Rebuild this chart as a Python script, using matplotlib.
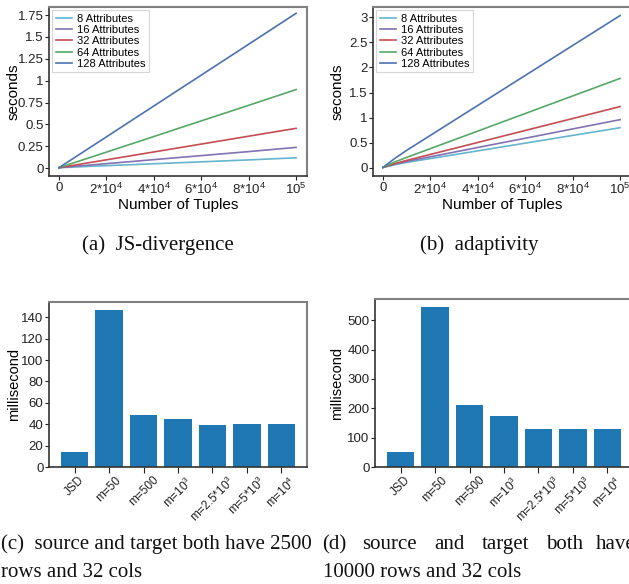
import matplotlib
matplotlib.use('Agg')
import matplotlib.pyplot as plt
import numpy as np

plt.rcParams['font.family'] = ['Liberation Sans', 'DejaVu Sans']
plt.rcParams['mathtext.fontset'] = 'custom'
plt.rcParams['mathtext.rm'] = 'Liberation Sans'
plt.rcParams['mathtext.it'] = 'Liberation Sans:italic'

W, H = 629, 584

# line charts (a) and (b)
tuples = [0, 5000, 10000, 20000, 30000, 40000, 50000, 60000, 70000, 80000, 90000, 100000]
attr_names = ['8 Attributes', '16 Attributes', '32 Attributes', '64 Attributes', '128 Attributes']
attr_colors = ['#64B5CD', '#8172B2', '#C44E52', '#55A868', '#4C72B0']

js_8 = [0.005, 0.011, 0.017, 0.028, 0.039, 0.050, 0.061, 0.072, 0.083, 0.094, 0.106, 0.118]
js_16 = [0.005, 0.017, 0.028, 0.051, 0.074, 0.097, 0.120, 0.143, 0.166, 0.189, 0.213, 0.237]
js_32 = [0.005, 0.027, 0.050, 0.095, 0.140, 0.185, 0.230, 0.275, 0.320, 0.365, 0.410, 0.455]
js_64 = [0.005, 0.050, 0.094, 0.183, 0.272, 0.361, 0.451, 0.540, 0.629, 0.718, 0.808, 0.898]
js_128 = [0.005, 0.093, 0.181, 0.357, 0.534, 0.710, 0.887, 1.063, 1.240, 1.416, 1.593, 1.770]
js_all = [js_8, js_16, js_32, js_64, js_128]

ad_8 = [0.01, 0.065, 0.11, 0.187, 0.263, 0.34, 0.417, 0.493, 0.57, 0.647, 0.723, 0.80]
ad_16 = [0.01, 0.075, 0.13, 0.222, 0.314, 0.407, 0.499, 0.591, 0.683, 0.776, 0.868, 0.96]
ad_32 = [0.01, 0.085, 0.15, 0.269, 0.388, 0.507, 0.626, 0.745, 0.864, 0.982, 1.101, 1.22]
ad_64 = [0.01, 0.12, 0.21, 0.384, 0.559, 0.733, 0.908, 1.082, 1.257, 1.431, 1.606, 1.78]
ad_128 = [0.01, 0.19, 0.35, 0.648, 0.946, 1.243, 1.541, 1.839, 2.137, 2.435, 2.732, 3.03]
ad_all = [ad_8, ad_16, ad_32, ad_64, ad_128]

x_ticks = [0, 20000, 40000, 60000, 80000, 100000]
x_tick_labels = ['0', '2*10$^4$', '4*10$^4$', '6*10$^4$', '8*10$^4$', '10$^5$']
js_yticks = [0, 0.25, 0.5, 0.75, 1, 1.25, 1.5, 1.75]
ad_yticks = [0, 0.5, 1, 1.5, 2, 2.5, 3]

# bar charts (c) and (d)
methods = ['JSD', 'm=50', 'm=500', 'm=10$^3$', 'm=2.5*10$^3$', 'm=5*10$^3$', 'm=10$^4$']
ms_2500 = [14, 147, 49, 45, 39.5, 40.5, 40.5]
ms_10000 = [50, 545, 210, 173, 128, 128, 128]
c_yticks = [0, 20, 40, 60, 80, 100, 120, 140]
d_yticks = [0, 100, 200, 300, 400, 500]


def px_axes(fig, left, top, right, bottom):
	return fig.add_axes([left / W, 1 - bottom / H, (right - left) / W, (bottom - top) / H])


def style(ax):
	for side in ['top', 'right']:
		ax.spines[side].set_color('#808080')
		ax.spines[side].set_linewidth(1.5)
	for side in ['left', 'bottom']:
		ax.spines[side].set_color('#333333')
		ax.spines[side].set_linewidth(1.2)
	ax.tick_params(length=3, width=0.8, pad=1, colors='#222222', labelsize=9.5)


def line_panel(ax, series, yticks, ylim):
	for ys, name, c in zip(series, attr_names, attr_colors):
		ax.plot(tuples, ys, color=c, lw=1.2, label=name)
	ax.set_xlim(-4200, 104600)
	ax.set_ylim(*ylim)
	ax.set_xticks(x_ticks)
	ax.set_xticklabels(x_tick_labels)
	ax.set_yticks(yticks)
	ax.set_yticklabels(['%g' % v for v in yticks])
	ax.set_xlabel('Number of Tuples', fontsize=11, labelpad=1)
	ax.set_ylabel('seconds', fontsize=11, labelpad=1)
	style(ax)
	leg = ax.legend(loc='upper left', fontsize=8, frameon=True, handlelength=1.5,
		borderpad=0.3, labelspacing=0.12, handletextpad=0.4, borderaxespad=0.3, fancybox=False)
	leg.get_frame().set_edgecolor('#cccccc')
	leg.get_frame().set_linewidth(0.8)


def bar_panel(ax, values, yticks):
	idx = np.arange(len(methods))
	ax.bar(idx, values, 0.8, color='#1f77b4')
	ax.set_xticks(idx)
	ax.set_xticklabels(methods, rotation=45)
	ax.set_yticks(yticks)
	ax.set_ylabel('millisecond', fontsize=10.5, labelpad=1)
	style(ax)
	ax.tick_params(axis='x', labelsize=8.5, length=4)


fig = plt.figure(figsize=(W / 100, H / 100), dpi=100)

ax_a = px_axes(fig, 49, 7, 307, 176)
line_panel(ax_a, js_all, js_yticks, (-0.09, 1.842))
ax_a.yaxis.set_label_coords(-28 / 258, 0.5)

ax_b = px_axes(fig, 373, 7, 631, 176)
line_panel(ax_b, ad_all, ad_yticks, (-0.16, 3.2))
ax_b.yaxis.set_label_coords(-28 / 258, 0.5)

ax_c = px_axes(fig, 49, 302, 307, 467)
bar_panel(ax_c, ms_2500, c_yticks)
ax_c.yaxis.set_label_coords(-28 / 258, 0.5)

ax_d = px_axes(fig, 375, 299, 633, 467)
bar_panel(ax_d, ms_10000, d_yticks)
ax_d.yaxis.set_label_coords(-31 / 258, 0.5)

cap = dict(family=['Liberation Serif', 'DejaVu Serif'], fontsize=15, va='baseline', color='#111111')
fig.text(82 / W, 1 - 250 / H, '(a)  JS-divergence', **cap)
fig.text(420 / W, 1 - 250 / H, '(b)  adaptivity', **cap)
fig.text(1 / W, 1 - 549 / H, '(c)  source and target both have 2500', **cap)
fig.text(1 / W, 1 - 577 / H, 'rows and 32 cols', **cap)
d_words = ['(d)', 'source', 'and', 'target', 'both', 'have']
d_x = [322, 362, 434, 482, 546, 596]
for word, x in zip(d_words, d_x):
	fig.text(x / W, 1 - 549 / H, word, **cap)
fig.text(323 / W, 1 - 577 / H, '10000 rows and 32 cols', **cap)

fig.savefig('out.png', dpi=100)
